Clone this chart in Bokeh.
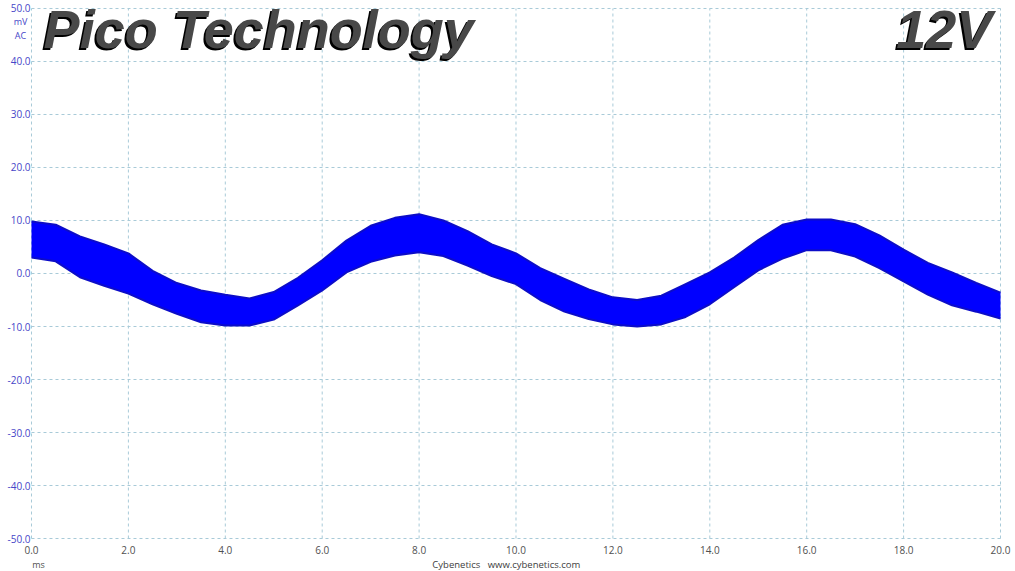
from bokeh.plotting import figure
from bokeh.models import Range1d, Label
from bokeh.core.properties import value
from bokeh.embed import file_html
from bokeh.resources import INLINE

# Time axis (ms) and read-off envelope of the noisy ripple trace (mV)
time_ms = [0.0, 0.5, 1.0, 1.5, 2.0, 2.5, 3.0, 3.5, 4.0, 4.5, 5.0, 5.5, 6.0, 6.5,
           7.0, 7.5, 8.0, 8.5, 9.0, 9.5, 10.0, 10.5, 11.0, 11.5, 12.0, 12.5, 13.0,
           13.5, 14.0, 14.5, 15.0, 15.5, 16.0, 16.5, 17.0, 17.5, 18.0, 18.5, 19.0,
           19.5, 20.0]
upper_mv = [9.8, 9.2, 7.0, 5.5, 3.8, 0.5, -1.8, -3.2, -4.0, -4.7, -3.5, -0.8, 2.5,
            6.2, 9.0, 10.5, 11.2, 10.0, 8.0, 5.5, 3.8, 1.0, -1.0, -3.0, -4.5, -5.0,
            -4.2, -2.0, 0.2, 3.0, 6.3, 9.2, 10.2, 10.2, 9.3, 7.2, 4.5, 2.0, 0.2,
            -1.8, -3.6]
lower_mv = [3.0, 2.3, -0.7, -2.3, -3.8, -5.8, -7.6, -9.2, -9.8, -9.8, -8.7, -6.0,
            -3.2, 0.2, 2.2, 3.4, 4.0, 3.3, 1.5, -0.5, -2.0, -5.0, -7.2, -8.6, -9.6,
            -10.0, -9.6, -8.2, -5.8, -2.6, 0.6, 2.8, 4.4, 4.4, 3.2, 1.0, -1.5, -4.0,
            -6.0, -7.2, -8.5]

x_ticks = [0, 2, 4, 6, 8, 10, 12, 14, 16, 18, 20]
y_ticks = [-50, -40, -30, -20, -10, 0, 10, 20, 30, 40, 50]
x_labels = ["%.1f" % v for v in x_ticks]
y_labels = ["%.1f" % v for v in y_ticks]

title_text = "Pico Technology"
rail_text = "12V"
unit_x = "ms"
unit_y = ["mV", "AC"]
credit = "Cybenetics\u00a0\u00a0 www.cybenetics.com"

X0, X1 = 0, 20
Y0, Y1 = -50, 50

p = figure(width=1015, height=571, output_backend="svg", toolbar_location=None,
           x_range=Range1d(-0.6398, 20.3096), y_range=Range1d(-56.226, 51.509),
           x_axis_location=None, y_axis_location=None,
           min_border=0)
p.outline_line_color = None
p.background_fill_color = "white"
p.border_fill_color = "white"
p.xgrid.visible = False
p.ygrid.visible = False

grid_color = "#a8cad8"
p.segment(x0=x_ticks, y0=[Y0] * len(x_ticks), x1=x_ticks, y1=[Y1] * len(x_ticks),
          line_color=grid_color, line_dash="3 3", line_width=1)
p.segment(x0=[X0] * len(y_ticks), y0=y_ticks, x1=[X1] * len(y_ticks), y1=y_ticks,
          line_color=grid_color, line_dash="3 3", line_width=1)

p.varea(x=time_ms, y1=lower_mv, y2=upper_mv, fill_color="#0000ff")
p.line(time_ms, upper_mv, line_color="#0c0cc8", line_width=2)
p.line(time_ms, lower_mv, line_color="#0c0cc8", line_width=2)

# tick labels
p.text(x=[X0 - 0.02] * len(y_ticks), y=y_ticks, text=y_labels,
       text_font=value("Open Sans"), text_font_size="10px", text_align="right",
       text_baseline="middle", text_color="#4646c8")
p.text(x=x_ticks, y=[Y0 - 2.08] * len(x_ticks), text=x_labels,
       text_font=value("Open Sans"), text_font_size="10px", text_align="center",
       text_baseline="middle", text_color="#505050")

p.text(x=[-0.227, -0.227], y=[47.55, 44.9], text=unit_y,
       text_font=value("Open Sans"), text_font_size="9px", text_align="center",
       text_baseline="middle", text_color="#4646c8")
p.text(x=[0.144], y=[-54.9], text=[unit_x],
       text_font=value("Open Sans"), text_font_size="9px", text_align="center",
       text_baseline="middle", text_color="#505050")
p.text(x=[9.8], y=[-54.9], text=[credit],
       text_font=value("Open Sans"), text_font_size="9.5px", text_align="center",
       text_baseline="middle", text_color="#404040")


def big(text, x, align, color, dx, dy):
    return Label(x=x, y=46.1, text=text, text_font="Liberation Sans",
                 text_font_style="bold italic", text_font_size="54px",
                 text_align=align, text_baseline="alphabetic",
                 text_color=color, x_offset=dx, y_offset=dy, level="overlay")


for txt, xx, al in ((title_text, 0.25, "left"), (rail_text, 19.83, "right")):
    p.add_layout(big(txt, xx, al, "#000000", -2, -2))
    p.add_layout(big(txt, xx, al, "#484848", 0, 0))

open("out.html", "w").write(file_html(p, INLINE))
